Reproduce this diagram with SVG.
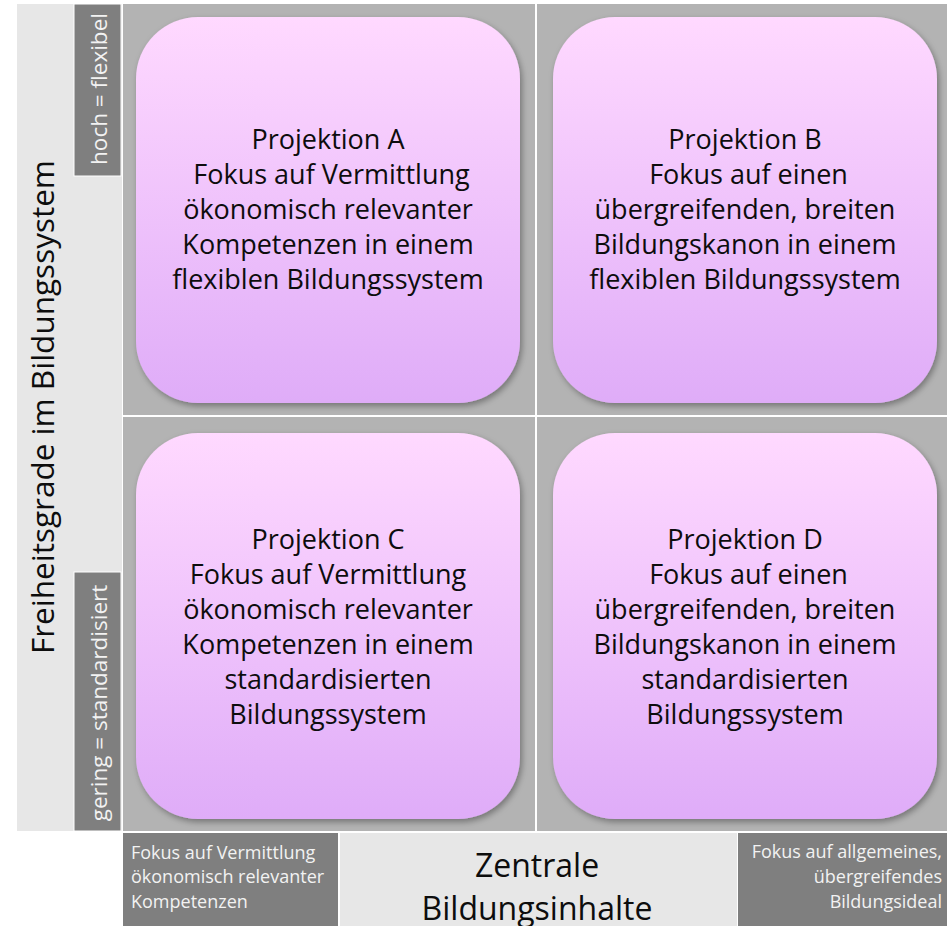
<svg xmlns="http://www.w3.org/2000/svg" width="947" height="926" viewBox="0 0 947 926">
  <style>
    .main { font-family: "Open Sans", "Noto Sans", sans-serif; font-size: 27px; fill: #0d0d0d; text-anchor: middle; }
    .axis { font-family: "Open Sans", "Noto Sans", sans-serif; font-size: 31.5px; fill: #0d0d0d; text-anchor: middle; }
    .tag { font-family: "Open Sans", "Noto Sans", sans-serif; font-size: 22.5px; fill: #f2f2f2; text-anchor: middle; }
    .small { font-family: "Open Sans", "Noto Sans", sans-serif; font-size: 18px; fill: #f2f2f2; }
    .center { font-family: "Open Sans", "Noto Sans", sans-serif; font-size: 32px; fill: #0d0d0d; text-anchor: middle; }
    .box { fill: url(#pink); filter: url(#shadow); }
    .dark { fill: #7f7f7f; stroke: #ffffff; stroke-width: 1; }
  </style>
  <defs>
    <linearGradient id="pink" x1="0" y1="0" x2="0" y2="1">
      <stop offset="0" stop-color="#ffd9ff"/>
      <stop offset="1" stop-color="#dfacf8"/>
    </linearGradient>
    <filter id="shadow" x="-10%" y="-10%" width="120%" height="120%">
      <feDropShadow dx="2" dy="3" stdDeviation="3" flood-color="#000000" flood-opacity="0.35"/>
    </filter>
  </defs>
  <rect x="0" y="0" width="947" height="926" fill="#ffffff"/>

  <!-- left axis panel -->
  <g id="y-axis">
    <rect x="17" y="4" width="105" height="827" fill="#e7e7e7"/>
    <text class="axis" transform="translate(54,407) rotate(-90)">Freiheitsgrade im Bildungssystem</text>
  </g>
  <g id="tag-hoch">
    <rect class="dark" x="74" y="4" width="47" height="172"/>
    <text class="tag" transform="translate(107,89) rotate(-90)">hoch = flexibel</text>
  </g>
  <g id="tag-gering">
    <rect class="dark" x="74" y="572" width="47" height="259"/>
    <text class="tag" transform="translate(107,703) rotate(-90)">gering = standardisiert</text>
  </g>

  <!-- main grid -->
  <g id="grid">
    <rect x="123" y="4" width="824" height="827" fill="#b3b3b3"/>
    <rect x="535" y="4" width="2" height="827" fill="#ffffff"/>
    <rect x="123" y="415" width="824" height="2" fill="#ffffff"/>
  </g>

  <g id="projA">
    <rect class="box" x="136" y="17" width="384" height="386" rx="62" ry="62"/>
    <text class="main" x="328" y="149">Projektion A</text>
    <text class="main" x="328" y="184">&#160;Fokus auf Vermittlung</text>
    <text class="main" x="328" y="219">ökonomisch relevanter</text>
    <text class="main" x="328" y="254">Kompetenzen in einem</text>
    <text class="main" x="328" y="289">flexiblen Bildungssystem</text>
  </g>
  <g id="projB">
    <rect class="box" x="553" y="17" width="384" height="386" rx="62" ry="62"/>
    <text class="main" x="745" y="149">Projektion B</text>
    <text class="main" x="745" y="184">&#160;Fokus auf einen</text>
    <text class="main" x="745" y="219">übergreifenden, breiten</text>
    <text class="main" x="745" y="254">Bildungskanon in einem</text>
    <text class="main" x="745" y="289">flexiblen Bildungssystem</text>
  </g>
  <g id="projC">
    <rect class="box" x="136" y="433" width="384" height="386" rx="62" ry="62"/>
    <text class="main" x="328" y="549">Projektion C</text>
    <text class="main" x="328" y="584">Fokus auf Vermittlung</text>
    <text class="main" x="328" y="619">ökonomisch relevanter</text>
    <text class="main" x="328" y="654">Kompetenzen in einem</text>
    <text class="main" x="328" y="689">standardisierten</text>
    <text class="main" x="328" y="724">Bildungssystem</text>
  </g>
  <g id="projD">
    <rect class="box" x="553" y="433" width="384" height="386" rx="62" ry="62"/>
    <text class="main" x="745" y="549">Projektion D</text>
    <text class="main" x="745" y="584">&#160;Fokus auf einen</text>
    <text class="main" x="745" y="619">übergreifenden, breiten</text>
    <text class="main" x="745" y="654">Bildungskanon in einem</text>
    <text class="main" x="745" y="689">standardisierten</text>
    <text class="main" x="745" y="724">Bildungssystem</text>
  </g>

  <!-- bottom axis -->
  <g id="x-left">
    <rect x="123" y="833" width="215" height="93" fill="#7f7f7f"/>
    <text class="small" x="131" y="859">Fokus auf Vermittlung</text>
    <text class="small" x="131" y="883">ökonomisch relevanter</text>
    <text class="small" x="131" y="908">Kompetenzen</text>
  </g>
  <g id="x-axis">
    <rect x="340" y="833" width="397" height="93" fill="#e7e7e7"/>
    <text class="center" x="537" y="877">Zentrale</text>
    <text class="center" x="537" y="920">Bildungsinhalte</text>
  </g>
  <g id="x-right">
    <rect x="738" y="833" width="209" height="93" fill="#7f7f7f"/>
    <text class="small" x="942" y="858" text-anchor="end">Fokus auf allgemeines,</text>
    <text class="small" x="942" y="883" text-anchor="end">übergreifendes</text>
    <text class="small" x="942" y="908" text-anchor="end">Bildungsideal</text>
  </g>
  <g id="connectors"/>
</svg>
